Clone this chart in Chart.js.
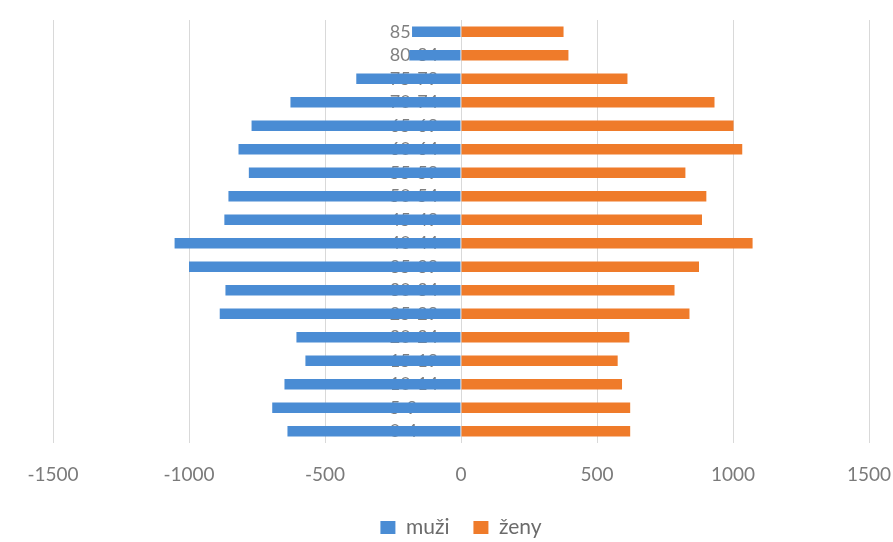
<!DOCTYPE html>
<html>
<head>
<meta charset="utf-8">
<script src="https://cdn.jsdelivr.net/npm/chart.js@4"></script>
<style>
  html, body { margin: 0; padding: 0; background: #fff; }
  #wrap { width: 893px; height: 542px; }
</style>
</head>
<body>
<div id="wrap"><canvas id="pyramid"></canvas></div>
<script>
// vekove skupiny, odshora
const ageGroups = ["85", "80-84", "75-79", "70-74", "65-69", "60-64", "55-59", "50-54", "45-49",
  "40-44", "35-39", "30-34", "25-29", "20-24", "15-19", "10-14", "5-9", "0-4"];
// muzi (zaporne = vlevo)
const men = [-180, -190, -385, -627, -770, -818, -780, -855, -870,
  -1053, -1000, -866, -887, -605, -572, -649, -694, -638];
const women = [377, 395, 612, 932, 1002, 1034, 825, 902, 886,
  1072, 875, 785, 840, 619, 576, 592, 622, 622];
const xTicks = [-1500, -1000, -500, 0, 500, 1000, 1500];

const ctx = document.getElementById("pyramid").getContext("2d");

// popisky vekovych skupin zarovnane zleva kousek pred nulou
const labelShift = {
  id: "labelShift",
  afterLayout(chart) {
    const y = chart.scales.y;
    const px = chart.scales.x.getPixelForValue(-262);
    y.left = px;
    y.right = px;
  },
};

new Chart(ctx, {
  type: "bar",
  data: {
    labels: ageGroups,
    datasets: [
      { label: "muži", data: men, backgroundColor: "#4A8CD4", barPercentage: 0.44, categoryPercentage: 1 },
      { label: "ženy", data: women, backgroundColor: "#EF7B2A", barPercentage: 0.44, categoryPercentage: 1 },
    ],
  },
  plugins: [labelShift],
  options: {
    indexAxis: "y",
    responsive: true,
    maintainAspectRatio: false,
    animation: false,
    layout: { padding: { left: 53, right: 24, top: 20, bottom: 0 } },
    plugins: {
      tooltip: { enabled: false },
      legend: {
        position: "bottom",
        maxHeight: 49,
        labels: {
          boxWidth: 15,
          boxHeight: 13,
          padding: 24,
          color: "#6b6b6b",
          font: { family: "Lato", size: 21 },
        },
      },
    },
    scales: {
      x: {
        stacked: true,
        min: -1500,
        max: 1500,
        afterBuildTicks: (scale) => {
          scale.ticks = xTicks.map((v) => ({ value: v }));
        },
        afterFit: (scale) => {
          scale.height = 50;
          scale.paddingLeft = 0;
          scale.paddingRight = 0;
        },
        grid: { color: "#d9d9d9", drawTicks: false },
        border: { display: false },
        ticks: {
          padding: 20,
          color: "#7a7a7a",
          font: { family: "Lato", size: 19 },
          callback: (v) => String(v),
        },
      },
      y: {
        stacked: true,
        position: "left",
        z: 1,
        afterFit: (scale) => {
          scale.width = 0;
        },
        grid: { display: false },
        border: { display: false },
        ticks: {
          mirror: true,
          padding: 0,
          autoSkip: false,
          color: "#7f7f7f",
          font: { family: "Lato", size: 18 },
        },
      },
    },
  },
});
</script>
</body>
</html>
